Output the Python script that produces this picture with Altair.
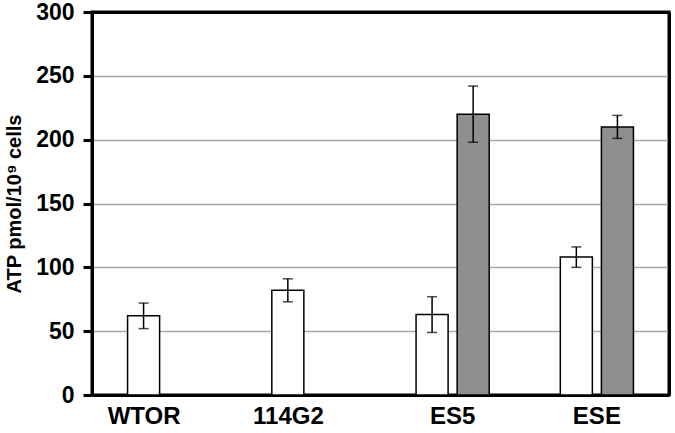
import altair as alt
import pandas as pd

categories = ["WTOR", "114G2", "ES5", "ESE"]
white_vals = [62, 82, 63, 108]
white_err = [10, 9, 14, 8]
grey_vals = [None, None, 220, 210]
grey_err = [None, None, 22, 9]
series_names = ["white", "grey"]
series_colors = ["#ffffff", "#8f8f8f"]
y_ticks = [0, 50, 100, 150, 200, 250, 300]

rows = []
for c, v, e in zip(categories, white_vals, white_err):
    rows.append({"cat": c, "series": "white", "value": v, "lo": v - e, "hi": v + e})
for c, v, e in zip(categories, grey_vals, grey_err):
    if v is not None:
        rows.append({"cat": c, "series": "grey", "value": v, "lo": v - e, "hi": v + e})
df = pd.DataFrame(rows)

FONT = "Liberation Sans"

xscale = alt.Scale(paddingInner=0, paddingOuter=0)
yscale = alt.Scale(domain=[0, 300], nice=False)

x = alt.X("cat:N", sort=categories, scale=xscale,
          axis=alt.Axis(title=None, labelFontSize=24, labelFontWeight="bold",
                        labelFont=FONT, labelColor="black", ticks=False,
                        domainWidth=3, domainColor="black", labelPadding=9, labelAngle=0,
                        labelOffset={"condition": {"test": "datum.value == 'WTOR' || datum.value == '114G2'",
                                                   "value": -20},
                                     "value": 0}))
x_top = alt.X("cat:N", sort=categories, scale=xscale,
              axis=alt.Axis(title=None, orient="top", labels=False, ticks=False,
                            domainWidth=3, domainColor="black", grid=False))
x_none = alt.X("cat:N", sort=categories, axis=None)
xo = alt.XOffset("series:N",
                 scale=alt.Scale(domain=series_names, paddingInner=0.22, paddingOuter=0.866))

base = alt.Chart(df)

bars = base.mark_bar(stroke="black", strokeWidth=1.5).encode(
    x=x, xOffset=xo,
    y=alt.Y("value:Q", scale=yscale,
            axis=alt.Axis(title="ATP pmol/10⁹ cells", values=y_ticks,
                          titleFont=FONT, titleFontSize=20, titleFontWeight="bold",
                          titleColor="black", titlePadding=11,
                          labelFont=FONT, labelFontSize=23, labelFontWeight="bold",
                          labelColor="black", labelPadding=9,
                          tickSize=9, tickWidth=3, tickColor="black",
                          domainWidth=3, domainColor="black",
                          grid=True, gridColor="#a8a8a8", gridWidth=1.5)),
    color=alt.Color("series:N", scale=alt.Scale(domain=series_names, range=series_colors),
                    legend=None),
)

rules = base.mark_rule(color="black", strokeWidth=1.5).encode(
    x=x_top, xOffset=xo,
    y=alt.Y("lo:Q", scale=yscale,
            axis=alt.Axis(title=None, orient="right", labels=False, ticks=False,
                          domainWidth=3, domainColor="black", grid=False)),
    y2="hi:Q")

caps_hi = base.mark_tick(color="black", thickness=1.5, size=10).encode(
    x=x_none, xOffset=xo, y=alt.Y("hi:Q", axis=None))
caps_lo = base.mark_tick(color="black", thickness=1.5, size=10).encode(
    x=x_none, xOffset=xo, y=alt.Y("lo:Q", axis=None))

chart = alt.layer(bars, rules, caps_hi, caps_lo).resolve_axis(
    x="independent", y="independent"
).properties(
    width=577, height=383,
    autosize=alt.AutoSizeParams(type="none"),
    padding={"left": 92, "top": 12, "right": 6, "bottom": 38},
).configure(
    background="white",
    view=alt.ViewConfig(stroke="black", strokeWidth=3),
)

chart.save("out.html", embed_options={"renderer": "svg", "actions": False})
